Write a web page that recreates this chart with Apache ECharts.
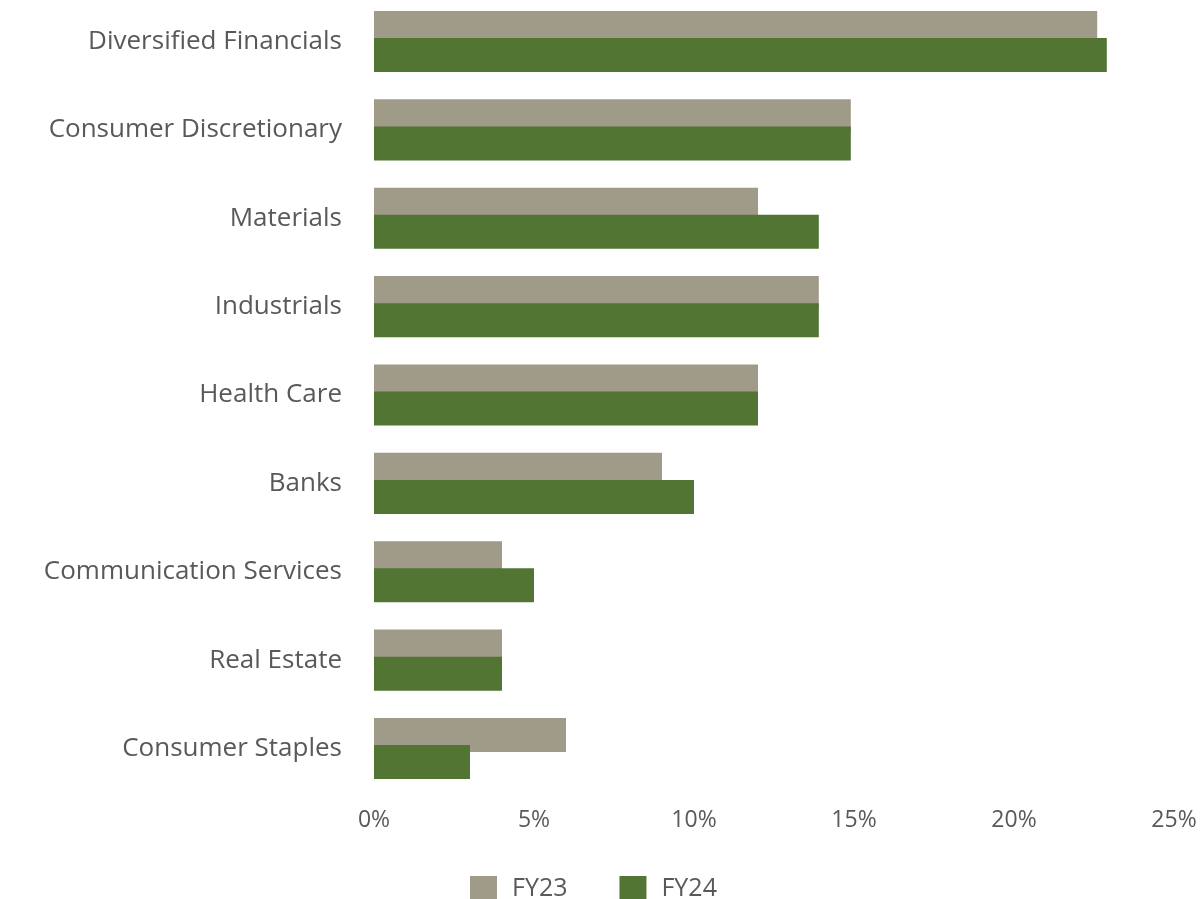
<!DOCTYPE html>
<html>
<head>
<meta charset="utf-8">
<script src="https://cdn.jsdelivr.net/npm/echarts@6/dist/echarts.min.js"></script>
<style>html,body{margin:0;padding:0;background:#fff;}#c{width:1201px;height:899px;}</style>
</head>
<body>
<div id="c"></div>
<script>
var categories = ['Diversified Financials','Consumer Discretionary','Materials','Industrials','Health Care','Banks','Communication Services','Real Estate','Consumer Staples'];
var fy23 = [22.6, 14.9, 12.0, 13.9, 12.0, 9.0, 4.0, 4.0, 6.0];
var fy24 = [22.9, 14.9, 13.9, 13.9, 12.0, 10.0, 5.0, 4.0, 3.0];
var seriesNames = ['FY23','FY24'];

var FONT = 'Open Sans';
var chart = echarts.init(document.getElementById('c'));
chart.setOption({
  animation: false,
  textStyle: {fontFamily: FONT},
  grid: {left: 374, right: 27, top: 41.5, height: 707, containLabel: false},
  legend: {
    top: 876, left: 470, padding: 0,
    data: seriesNames,
    itemWidth: 27, itemHeight: 26, itemGap: 52,
    icon: 'rect',
    textStyle: {fontFamily: FONT, fontSize: 25, color: '#595959', padding: [0,0,0,10]}
  },
  xAxis: {
    type: 'value', min: 0, max: 25, interval: 5,
    axisLine: {show: false}, axisTick: {show: false}, splitLine: {show: false},
    axisLabel: {formatter: '{value}%', fontFamily: FONT, fontSize: 23, color: '#595959', margin: 60}
  },
  yAxis: {
    type: 'category', data: categories, inverse: true, boundaryGap: false,
    axisLine: {show: false}, axisTick: {show: false}, splitLine: {show: false},
    axisLabel: {fontFamily: FONT, fontSize: 26, color: '#595959', margin: 32, padding: [3,0,0,0]}
  },
  series: [
    {name: seriesNames[0], type: 'bar', data: fy23, barWidth: 34, barGap: '-20%', itemStyle: {color: '#A09A88'}},
    {name: seriesNames[1], type: 'bar', data: fy24, barWidth: 34, barGap: '-20%', itemStyle: {color: '#527534'}}
  ]
});
</script>
</body>
</html>
